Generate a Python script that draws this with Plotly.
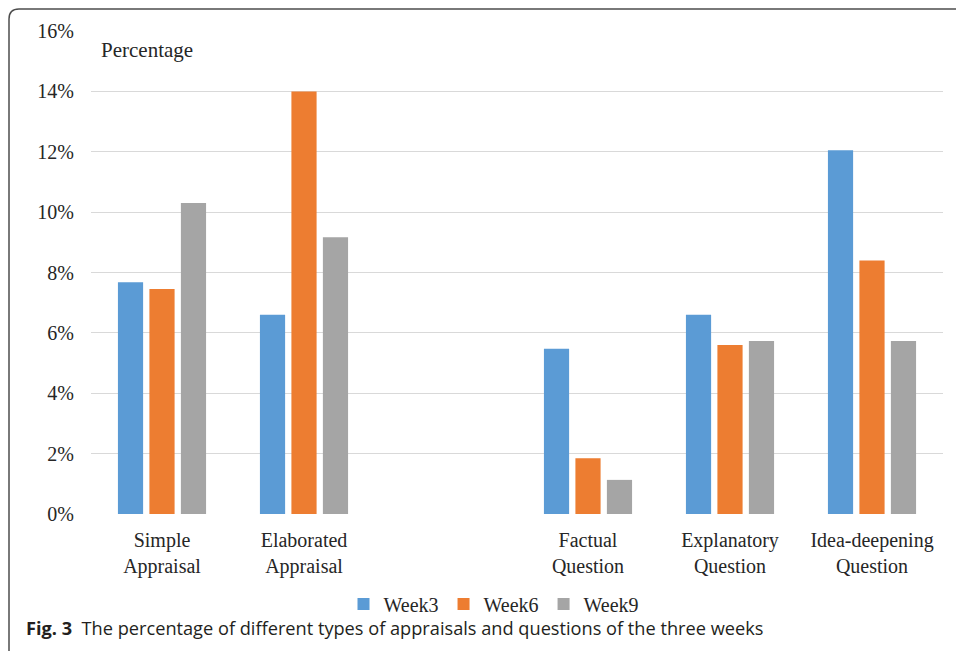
import plotly.graph_objects as go

# Appraisal and question types, grouped by week
categories = ["Simple<br>Appraisal", "Elaborated<br>Appraisal",
              "Factual<br>Question", "Explanatory<br>Question", "Idea-deepening<br>Question"]
weeks = ["Week3", "Week6", "Week9"]
week3 = [7.68, 6.6, 5.47, 6.6, 12.05]
week6 = [7.45, 14.0, 1.85, 5.6, 8.4]
week9 = [10.3, 9.17, 1.13, 5.73, 5.73]
y_ticks = [0, 2, 4, 6, 8, 10, 12, 14, 16]

colors = ["#5B9BD5", "#ED7D31", "#A5A5A5"]
serif = "Liberation Serif"
ink = "#262626"

# appraisals and questions are separated by one empty slot
slots = [0, 1, 3, 4, 5]

W, H = 956, 651
L, R, T, B = 91, 13, 31, 137
pw, ph = W - L - R, H - T - B


def px(x):
    return (x - L) / pw


def py(y):
    return (H - B - y) / ph


fig = go.Figure()
for name, vals, c in zip(weeks, [week3, week6, week9], colors):
    fig.add_trace(go.Bar(x=slots, y=vals, name=name, marker_color=c,
                         marker_line_width=0))

fig.update_layout(
    width=W, height=H,
    margin=dict(l=L, r=R, t=T, b=B),
    paper_bgcolor="white", plot_bgcolor="white",
    barmode="group", bargap=0.335, bargroupgap=0.2,
    font=dict(family=serif, size=20, color=ink),
    showlegend=True,
    legend=dict(orientation="h", x=px(494), xanchor="center", y=py(604), yanchor="middle",
                font=dict(family=serif, size=20, color=ink),
                itemwidth=30, tracegroupgap=0, bgcolor="rgba(0,0,0,0)"),
    xaxis=dict(range=[-0.5, 5.5], tickmode="array", tickvals=slots, ticktext=categories,
               showgrid=False, zeroline=False, showline=False, ticks="",
               tickfont=dict(family=serif, size=20, color=ink),
               ticklabelstandoff=12, fixedrange=True),
    yaxis=dict(range=[0, 16], tickmode="array", tickvals=y_ticks,
               ticktext=[f"{v}%" for v in y_ticks],
               showgrid=True, gridcolor="#D9D9D9", gridwidth=1,
               zeroline=False, showline=False, ticks="",
               tickfont=dict(family=serif, size=20, color=ink),
               ticklabelstandoff=16),
)

fig.add_annotation(text="Percentage", xref="paper", yref="paper",
                   x=px(99), y=py(50), xanchor="left", yanchor="middle",
                   showarrow=False, font=dict(family=serif, size=21, color=ink))

fig.add_annotation(text="<b>Fig. 3</b>  The percentage of different types of appraisals and questions of the three weeks",
                   xref="paper", yref="paper", x=px(24), y=py(628),
                   xanchor="left", yanchor="middle", showarrow=False,
                   font=dict(family="Open Sans", size=18.2, color="#231F20"))

# rounded frame around the figure
r = 10
x0, y0, x1, y1 = 9, 9, 975, 680
path = (f"M {px(x0)},{py(y1)} L {px(x0)},{py(y0 + r)} "
        f"Q {px(x0)},{py(y0)} {px(x0 + r)},{py(y0)} L {px(x1)},{py(y0)}")
fig.add_shape(type="path", path=path, xref="paper", yref="paper",
              line=dict(color="#4D4D4D", width=1.5))

fig.write_html("out.html")
